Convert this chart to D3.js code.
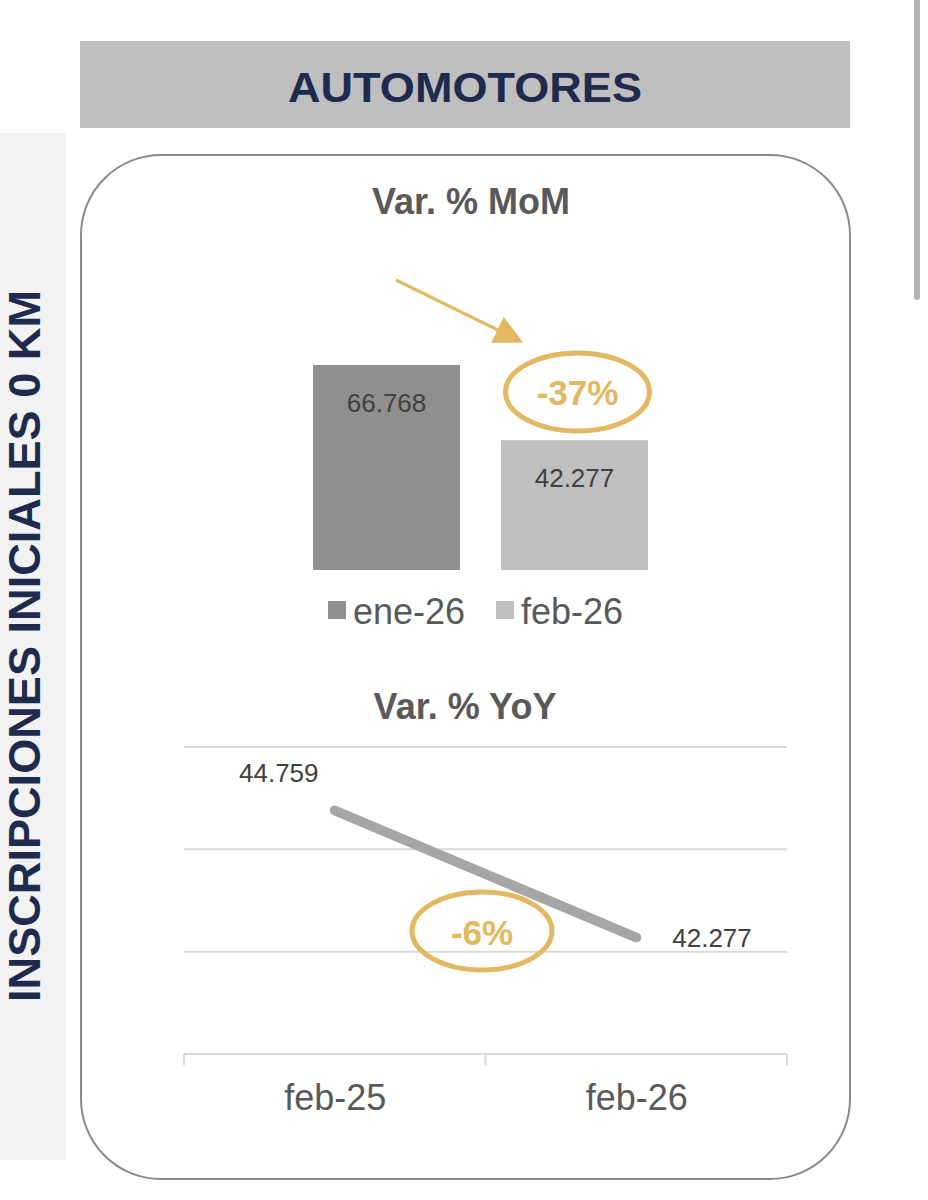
<!DOCTYPE html>
<html><head><meta charset="utf-8">
<script src="https://cdn.jsdelivr.net/npm/d3@7"></script>
<style>html,body{margin:0;padding:0;background:#fff;}svg{display:block;}</style>
</head><body>
<svg id="chart" width="928" height="1200"></svg>
<script>
// ---- data ----
const headerTitle = "AUTOMOTORES";
const sideTitle = "INSCRIPCIONES INICIALES 0 KM";
const momTitle = "Var. % MoM";
const momCategories = ["ene-26", "feb-26"];
const momValues = [66768, 42277];
const momChange = "-37%";
const yoyTitle = "Var. % YoY";
const yoyCategories = ["feb-25", "feb-26"];
const yoyValues = [44759, 42277];
const yoyTicks = [40000, 42000, 44000, 46000];
const yoyChange = "-6%";

// ---- styles ----
const navy = "#1f2a4f", gold = "#e2b862", txt = "#595959", dark = "#404040";
const barColors = ["#8f8f8f", "#bfbfbf"];
const FONT = "'Liberation Sans', Arial, sans-serif";
const loc = d3.formatLocale({decimal: ",", thousands: ".", grouping: [3], currency: ["$", ""]});
const fmt = loc.format(",d");

const svg = d3.select("#chart");
svg.append("rect").attr("width", 928).attr("height", 1200).attr("fill", "#fff");

// scrollbar artifact
svg.append("rect").attr("x", 914).attr("y", -10).attr("width", 6).attr("height", 310).attr("rx", 3).attr("fill", "#b3b3b3");

// header
svg.append("rect").attr("x", 80).attr("y", 41).attr("width", 770).attr("height", 87).attr("fill", "#bfbfbf");
svg.append("text").attr("x", 465).attr("y", 102).attr("text-anchor", "middle")
  .attr("font-family", FONT).attr("font-weight", "bold").attr("font-size", 42)
  .attr("fill", navy).attr("textLength", 354).attr("lengthAdjust", "spacingAndGlyphs").text(headerTitle);

// side panel
svg.append("rect").attr("x", 0).attr("y", 133).attr("width", 66).attr("height", 1027).attr("fill", "#f2f2f2");
svg.append("text").attr("transform", "translate(40,646) rotate(-90)").attr("text-anchor", "middle")
  .attr("font-family", FONT).attr("font-weight", "bold").attr("font-size", 44)
  .attr("fill", navy).attr("textLength", 712).attr("lengthAdjust", "spacingAndGlyphs").text(sideTitle);

// rounded card
svg.append("rect").attr("x", 81).attr("y", 155).attr("width", 769).attr("height", 1024).attr("rx", 80).attr("ry", 80)
  .attr("fill", "none").attr("stroke", "#8a8a8a").attr("stroke-width", 2);

// ---- MoM bar chart ----
svg.append("text").attr("x", 471).attr("y", 214).attr("text-anchor", "middle")
  .attr("font-family", FONT).attr("font-weight", "bold").attr("font-size", 36).attr("fill", txt).text(momTitle);

const xb = d3.scaleBand().domain(momCategories).range([313, 648]).paddingInner(0.218).paddingOuter(0);
const yb = d3.scaleLinear().domain([0, 80000]).range([570, 570 - 205 * 80000 / 66768]);
const bars = svg.append("g");
bars.selectAll("rect").data(momCategories).join("rect")
  .attr("x", d => xb(d)).attr("width", xb.bandwidth())
  .attr("y", (d, i) => yb(momValues[i])).attr("height", (d, i) => yb(0) - yb(momValues[i]))
  .attr("fill", (d, i) => barColors[i]);
bars.selectAll("text").data(momCategories).join("text")
  .attr("x", d => xb(d) + xb.bandwidth() / 2).attr("y", (d, i) => yb(momValues[i]) + 47)
  .attr("text-anchor", "middle").attr("font-family", FONT).attr("font-size", 26).attr("fill", dark)
  .text((d, i) => fmt(momValues[i]));

// legend
const leg = svg.append("g");
const legX = [328, 496];
momCategories.forEach((c, i) => {
  leg.append("rect").attr("x", legX[i]).attr("y", 601).attr("width", 18).attr("height", 18).attr("fill", barColors[i]);
  leg.append("text").attr("x", legX[i] + 25).attr("y", 624).attr("font-family", FONT).attr("font-size", 36)
    .attr("fill", txt).text(c);
});

// arrow + ellipse
const defs = svg.append("defs");
defs.append("marker").attr("id", "ah").attr("viewBox", "0 0 10 10").attr("refX", 8).attr("refY", 5)
  .attr("markerWidth", 9).attr("markerHeight", 9).attr("markerUnits", "strokeWidth").attr("orient", "auto")
  .append("path").attr("d", "M0,0 L10,5 L0,10 z").attr("fill", gold);
svg.append("line").attr("x1", 396).attr("y1", 280).attr("x2", 518).attr("y2", 340)
  .attr("stroke", gold).attr("stroke-width", 3.2).attr("marker-end", "url(#ah)");
const cx1 = xb(momCategories[1]) + xb.bandwidth() / 2 + 3;
svg.append("ellipse").attr("cx", cx1).attr("cy", 392).attr("rx", 72).attr("ry", 39)
  .attr("fill", "none").attr("stroke", gold).attr("stroke-width", 5);
svg.append("text").attr("x", cx1).attr("y", 405).attr("text-anchor", "middle")
  .attr("font-family", FONT).attr("font-weight", "bold").attr("font-size", 35).attr("fill", gold).text(momChange);

// ---- YoY line chart ----
svg.append("text").attr("x", 465).attr("y", 719).attr("text-anchor", "middle")
  .attr("font-family", FONT).attr("font-weight", "bold").attr("font-size", 36).attr("fill", txt).text(yoyTitle);

const xl = d3.scalePoint().domain(yoyCategories).range([184, 787]).padding(0.5);
const xlb = d3.scaleBand().domain(yoyCategories).range([184, 787]);
const yl = d3.scaleLinear().domain([40000, 46000]).range([1054, 747]);

svg.append("g").selectAll("line").data(yoyTicks).join("line")
  .attr("x1", 184).attr("x2", 787).attr("y1", d => yl(d)).attr("y2", d => yl(d))
  .attr("stroke", "#d9d9d9").attr("stroke-width", 2);

// tick marks between categories
const tickXs = yoyCategories.map(c => xlb(c)).concat([787]);
svg.append("g").selectAll("line").data(tickXs).join("line")
  .attr("x1", d => d).attr("x2", d => d).attr("y1", yl(40000)).attr("y2", yl(40000) + 11)
  .attr("stroke", "#d9d9d9").attr("stroke-width", 2);

const xAxis = svg.append("g").attr("transform", `translate(0,${yl(40000)})`)
  .call(d3.axisBottom(xl).tickSize(0).tickPadding(30));
xAxis.select(".domain").remove();
xAxis.selectAll("text").attr("font-family", FONT).attr("font-size", 36).attr("fill", txt).attr("font-weight", "normal");

const line = d3.line().x((d, i) => xl(yoyCategories[i])).y(d => yl(d));
svg.append("path").datum(yoyValues).attr("d", line).attr("fill", "none")
  .attr("stroke", "#a6a6a6").attr("stroke-width", 10).attr("stroke-linecap", "round");

// data labels
svg.append("text").attr("x", xl(yoyCategories[0]) - 56).attr("y", yl(yoyValues[0]) - 28).attr("text-anchor", "middle")
  .attr("font-family", FONT).attr("font-size", 26).attr("fill", dark).text(fmt(yoyValues[0]));
svg.append("text").attr("x", xl(yoyCategories[1]) + 36).attr("y", yl(yoyValues[1]) + 10).attr("text-anchor", "start")
  .attr("font-family", FONT).attr("font-size", 26).attr("fill", dark).text(fmt(yoyValues[1]));

// -6% ellipse
svg.append("ellipse").attr("cx", 482).attr("cy", 931).attr("rx", 70).attr("ry", 39)
  .attr("fill", "none").attr("stroke", gold).attr("stroke-width", 5);
svg.append("text").attr("x", 482).attr("y", 945).attr("text-anchor", "middle")
  .attr("font-family", FONT).attr("font-weight", "bold").attr("font-size", 35).attr("fill", gold).text(yoyChange);
</script>
</body></html>
